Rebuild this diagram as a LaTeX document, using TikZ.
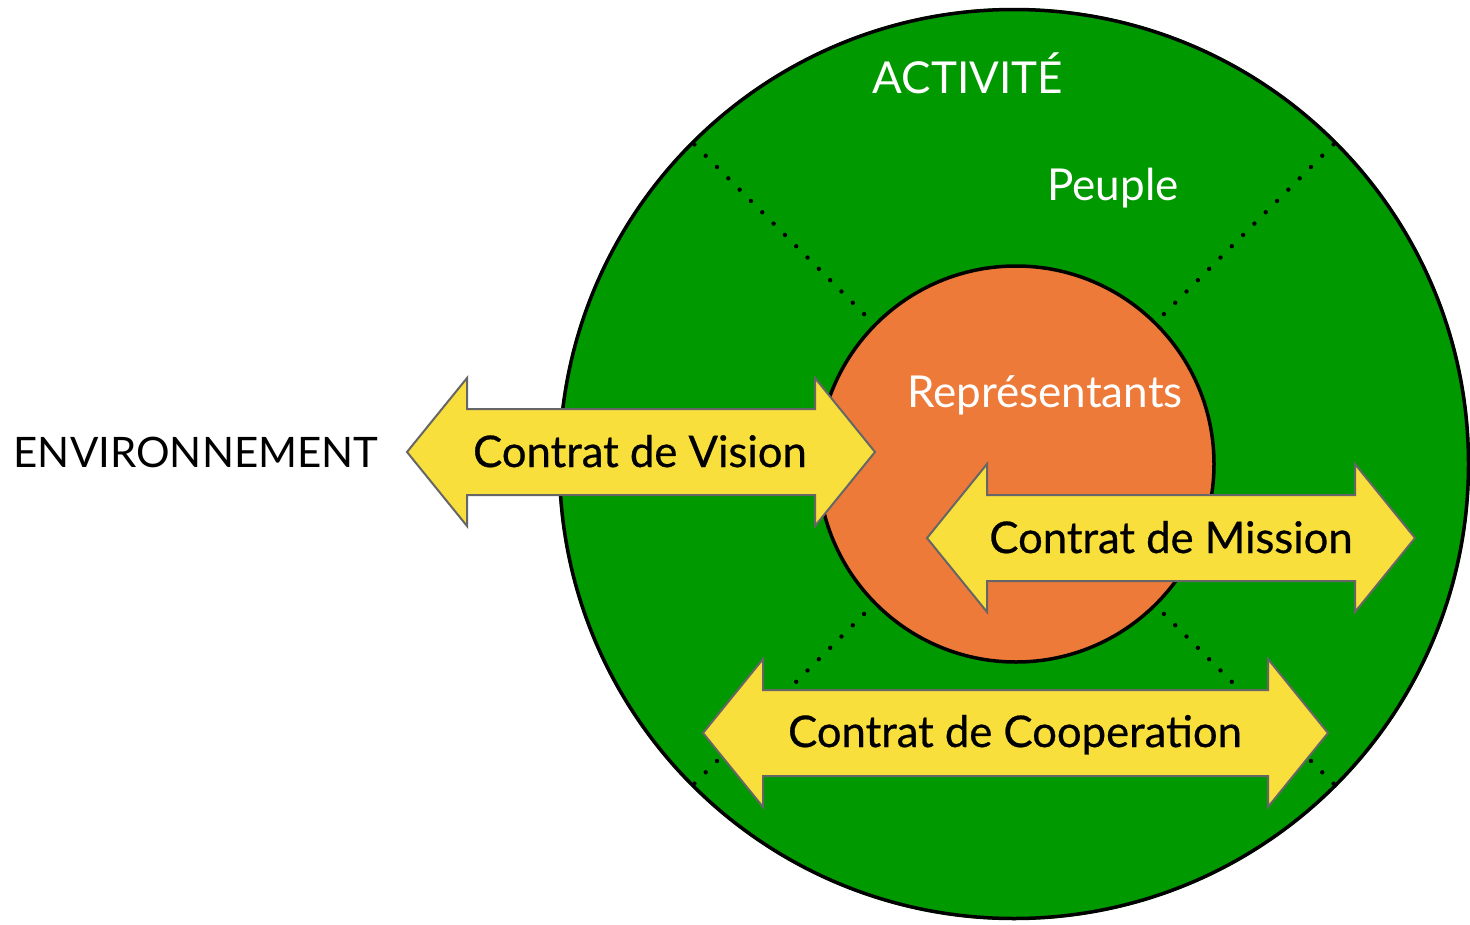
\documentclass[tikz,border=0pt]{standalone}
\usepackage{fontspec}
\setmainfont{Lato}
\newfontfamily\medfont[FakeBold=0.6]{Lato}
\definecolor{cgreen}{HTML}{009900}
\definecolor{corange}{HTML}{ED7A39}
\definecolor{cyellow}{HTML}{F8DF3B}
\definecolor{cborder}{HTML}{666666}
\tikzset{
  ring/.style={draw=black,line width=3.5pt},
  dotline/.style={draw=black,line width=4.4pt,line cap=round,dash pattern=on 0pt off 16pt},
  dbl/.style={fill=cyellow,draw=cborder,line width=2pt,line join=miter},
  lbl/.style={anchor=base,inner sep=0pt,font=\fontsize{42}{48}\selectfont},
  clbl/.style={lbl,font=\medfont\fontsize{43.6}{48}\selectfont},
  wlbl/.style={lbl,text=white,font=\fontsize{44}{50}\selectfont},
}
% #1 name, #2 left tip x, #3 right tip x, #4 y
\newcommand\dblarrow[4]{%
  \coordinate (#1L) at (#2,#4);
  \coordinate (#1R) at (#3,#4);
  \draw[dbl] (#1L) -- ++(60,-74) -- ++(0,31) -- ($(#1R)+(-60,-43)$) -- ++(0,-31)
    -- (#1R) -- ++(-60,74) -- ++(0,-31) -- ($(#1L)+(60,43)$) -- ++(0,31) -- cycle;
}
\usetikzlibrary{calc}
\begin{document}
\begin{tikzpicture}[x=1pt,y=-1pt]
\useasboundingbox (0,0) rectangle (1470,924);
\coordinate (c) at (1014,464);
\fill[cgreen] (c) circle[radius=456];
\draw[ring] (c) circle[radius=454.5];
\foreach \a/\n in {135/ul,45/ur,225/ll,315/lr}{
  \coordinate (in\n) at ($(c)+(\a:201)$);
  \coordinate (out\n) at ($(c)+(\a:452)$);
  \draw[dotline] (out\n) -- (in\n);
}
\node[circle,fill=corange,draw=black,line width=3.5pt,minimum size=396pt,inner sep=0pt] (rep) at (1016,464) {};
\node[wlbl] (act) at (968,93) {ACTIVITÉ};
\node[wlbl] (peu) at (1113,200) {Peuple};
\node[wlbl] (repl) at (1045,407) {Représentants};
\node[lbl] (env) at (196,467) {ENVIRONNEMENT};
\dblarrow{vis}{407}{875}{452}
\node[clbl] (visl) at (640,467) {Contrat de Vision};
\dblarrow{mis}{927}{1415}{538}
\node[clbl] (misl) at (1171,553) {Contrat de Mission};
\dblarrow{coo}{703}{1328}{733}
\node[clbl] (cool) at (1015,747) {Contrat de Cooperation};
\end{tikzpicture}
\end{document}
